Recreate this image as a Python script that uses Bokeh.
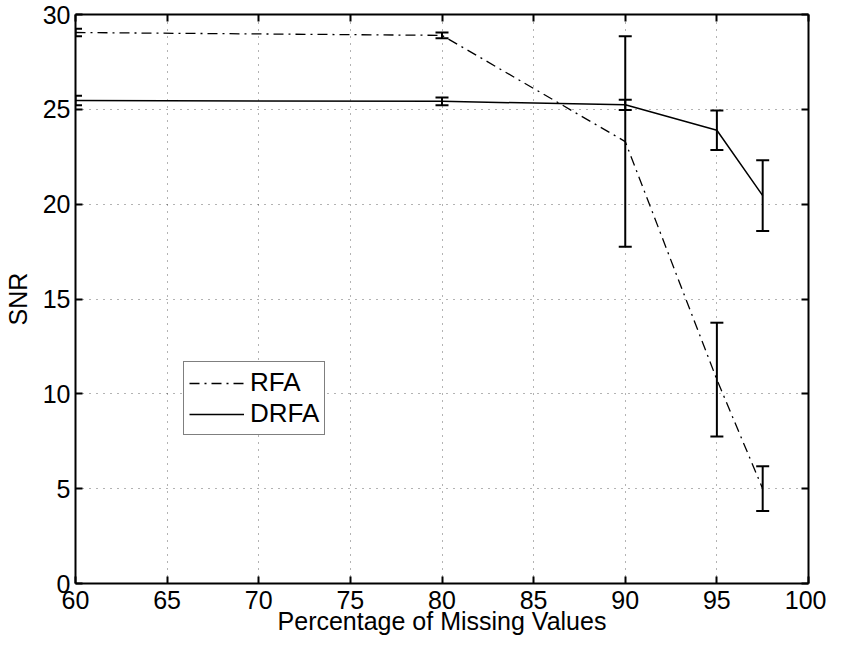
from bokeh.plotting import figure
from bokeh.models import ColumnDataSource, LinearAxis, FixedTicker, CustomJSTickFormatter, Range1d, Legend, LegendItem
from bokeh.embed import file_html
from bokeh.resources import INLINE

# ---- data ----
missing_pct = [60, 80, 90, 95, 97.5]
rfa_snr = [29.05, 28.9, 23.3, 10.75, 5.0]
rfa_err = [0.2, 0.15, 5.55, 3.0, 1.18]
drfa_snr = [25.47, 25.42, 25.24, 23.9, 20.45]
drfa_err = [0.25, 0.2, 0.27, 1.04, 1.87]
x_ticks = [60, 65, 70, 75, 80, 85, 90, 95, 100]
y_ticks = [0, 5, 10, 15, 20, 25, 30]
series_names = ["RFA", "DRFA"]

FONT = "Liberation Sans"
FS = "25px"

p = figure(width=826, height=641, output_backend="svg", toolbar_location=None,
           x_range=Range1d(60, 100), y_range=Range1d(0, 30),
           min_border_left=69, min_border_right=18, min_border_top=14, min_border_bottom=58)
p.outline_line_color = None
p.background_fill_color = "white"
p.border_fill_color = "white"

def style_axis(ax, ticks, show_labels):
    ax.ticker = FixedTicker(ticks=ticks)
    ax.axis_line_color = "black"
    ax.axis_line_width = 2
    ax.major_tick_line_color = "black"
    ax.major_tick_line_width = 2
    ax.major_tick_in = 7
    ax.major_tick_out = 0
    ax.minor_tick_line_color = None
    ax.major_label_text_font = FONT
    ax.major_label_text_font_size = FS
    ax.major_label_text_color = "black"
    ax.axis_label_text_font = FONT
    ax.axis_label_text_font_size = FS
    ax.axis_label_text_font_style = "normal"
    ax.axis_label_text_color = "black"
    if not show_labels:
        ax.formatter = CustomJSTickFormatter(code="return ''")
        ax.major_label_standoff = 0
        ax.axis_label_standoff = 0

style_axis(p.xaxis[0], x_ticks, True)
style_axis(p.yaxis[0], y_ticks, True)
p.xaxis[0].axis_label = "Percentage of Missing Values"
p.yaxis[0].axis_label = "SNR"
p.xaxis[0].major_label_standoff = 7
p.xaxis[0].axis_label_standoff = -5
p.yaxis[0].major_label_standoff = 5
p.yaxis[0].axis_label_standoff = 8

top_ax = LinearAxis()
right_ax = LinearAxis()
style_axis(top_ax, x_ticks, False)
style_axis(right_ax, y_ticks, False)
p.add_layout(top_ax, "above")
p.add_layout(right_ax, "right")

for g in (p.xgrid[0], p.ygrid[0]):
    g.grid_line_color = "black"
    g.grid_line_alpha = 0.6
    g.grid_line_dash = "1 6"
    g.grid_line_width = 1
p.xgrid[0].ticker = FixedTicker(ticks=x_ticks)
p.ygrid[0].ticker = FixedTicker(ticks=y_ticks)

src = ColumnDataSource(dict(
    x=missing_pct,
    rfa=rfa_snr,
    rfa_lo=[v - e for v, e in zip(rfa_snr, rfa_err)],
    rfa_hi=[v + e for v, e in zip(rfa_snr, rfa_err)],
    drfa=drfa_snr,
    drfa_lo=[v - e for v, e in zip(drfa_snr, drfa_err)],
    drfa_hi=[v + e for v, e in zip(drfa_snr, drfa_err)],
))

r_rfa = p.line("x", "rfa", source=src, line_color="black", line_width=1.3, line_dash="10 5 2 5")
r_drfa = p.line("x", "drfa", source=src, line_color="black", line_width=1.5)

for lo, hi in (("rfa_lo", "rfa_hi"), ("drfa_lo", "drfa_hi")):
    p.segment(x0="x", y0=lo, x1="x", y1=hi, source=src, line_color="black", line_width=2)
    p.dash(x="x", y=lo, source=src, size=13, line_color="black", line_width=2)
    p.dash(x="x", y=hi, source=src, size=13, line_color="black", line_width=2)

legend = Legend(items=[LegendItem(label=series_names[0], renderers=[r_rfa]),
                       LegendItem(label=series_names[1], renderers=[r_drfa])],
                location=(108, 148))
legend.border_line_color = "black"
legend.border_line_width = 1.5
legend.background_fill_color = "white"
legend.background_fill_alpha = 1
legend.label_text_font = FONT
legend.label_text_font_size = "26px"
legend.label_text_color = "black"
legend.glyph_width = 55
legend.glyph_height = 30
legend.label_standoff = 6
legend.padding = 5
legend.spacing = 0
legend.margin = 0
p.add_layout(legend, "center")

open("out.html", "w").write(file_html(p, INLINE))
